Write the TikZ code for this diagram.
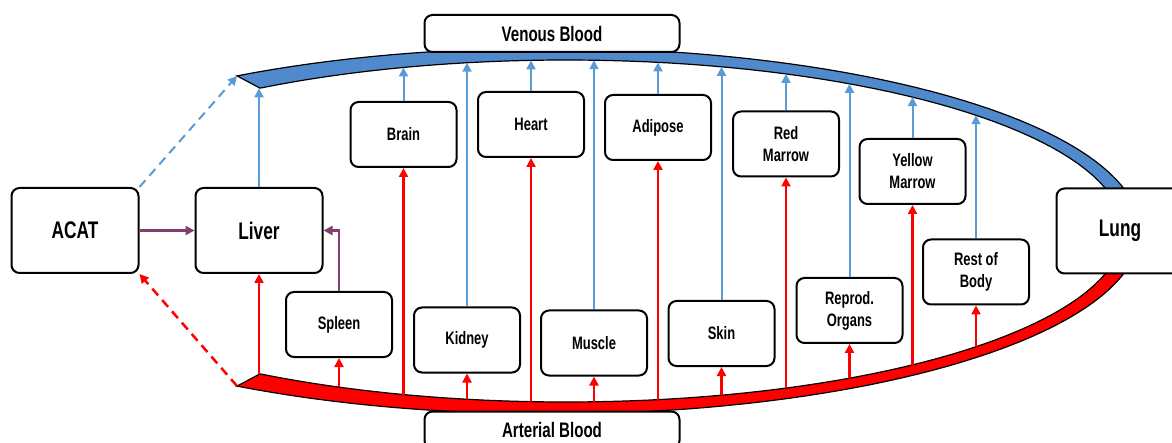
\documentclass[tikz,border=0pt]{standalone}
\usepackage{fontspec}
\setmainfont[FakeStretch=0.72]{Liberation Sans}
\usetikzlibrary{arrows.meta}

\definecolor{venblue}{RGB}{80,138,204}
\definecolor{linkblue}{RGB}{91,155,213}
\definecolor{artred}{RGB}{255,0,0}
\definecolor{transfer}{RGB}{133,60,110}

\begin{document}
\begin{tikzpicture}[
    x=1pt, y=-1pt,
    organ/.style={draw, rounded corners=8pt, line width=2pt, fill=white, minimum width=106pt, minimum height=65pt, align=center, font=\fontsize{18}{22}\selectfont\bfseries},
    bigorgan/.style={organ, minimum width=127pt, minimum height=85pt, font=\fontsize{24}{28}\selectfont\bfseries},
    pool/.style={organ, minimum width=255pt, minimum height=37pt, font=\fontsize{21}{24}\selectfont\bfseries},
    ven/.style={draw=linkblue, line width=2pt, -{Triangle[length=9pt,width=9pt]}},
    art/.style={draw=artred, line width=2.5pt, -{Triangle[length=9pt,width=9pt]}},
    moveto/.style={draw=transfer, line width=2.5pt, -{Triangle[length=9pt,width=9pt]}}
]
    \useasboundingbox (0,0) rectangle (1172,443);

    % Blood pools (bands)
    \filldraw[fill=venblue, draw=black, line width=1.2pt]
        plot[domain=-122.04:0, samples=60] ({550+590*cos(\x)}, {231+183*sin(\x)})
        -- plot[domain=0:-123.33, samples=60] ({566+557*cos(\x)}, {231+171*sin(\x)}) -- cycle;
    \filldraw[fill=artred, draw=black, line width=1.2pt]
        plot[domain=122.04:0, samples=60] ({550+590*cos(\x)}, {231+183*sin(\x)})
        -- plot[domain=0:123.33, samples=60] ({566+557*cos(\x)}, {231+171*sin(\x)}) -- cycle;
    \coordinate (vtip) at (237,76);
    \coordinate (atip) at (237,386);

    % End points on the bands
    \foreach \n/\px in {liver/259, spleen/339, brain/403.5, kidney/467, heart/531, muscle/594,
                        adipose/658, skin/721.5, redmarrow/786, reprod/849.5, yellowmarrow/912.5, restbody/976} {
        \pgfmathsetmacro\h{171*sqrt(1-((\px-566)/557)^2)}
        \coordinate (v\n) at (\px,231-\h);
        \coordinate (a\n) at (\px,231+\h);
    }

    % Compartments
    \node[bigorgan] (acat) at (75,230.5) {ACAT};
    \node[bigorgan] (liver) at (259,230.5) {Liver};
    \node[bigorgan] (lung) at (1120,231) {Lung};
    \node[pool] (venous) at (552,33.5) {Venous Blood};
    \node[pool] (arterial) at (552,430) {Arterial Blood};

    \node[organ] (brain) at (403.5,134.5) {Brain};
    \node[organ] (heart) at (531,124.5) {Heart};
    \node[organ] (adipose) at (658,127.5) {Adipose};
    \node[organ] (redmarrow) at (786,144) {Red\\Marrow};
    \node[organ] (yellowmarrow) at (912.5,171.5) {Yellow\\Marrow};
    \node[organ] (restbody) at (976,272) {Rest of\\Body};
    \node[organ] (spleen) at (339,324.5) {Spleen};
    \node[organ] (kidney) at (467,340) {Kidney};
    \node[organ] (muscle) at (594,343) {Muscle};
    \node[organ] (skin) at (721.5,333.5) {Skin};
    \node[organ] (reprod) at (849.5,310.5) {Reprod.\\Organs};

    % Venous outflow
    \foreach \n in {liver, brain, kidney, heart, muscle, adipose, skin, redmarrow, reprod, yellowmarrow, restbody}
        \draw[ven] (\n.north) -- (v\n);
    % Arterial inflow
    \foreach \n in {liver, spleen, brain, kidney, heart, muscle, adipose, skin, redmarrow, reprod, yellowmarrow, restbody}
        \draw[art] (a\n) -- (\n.south);

    % ACAT and spleen to liver
    \draw[moveto] (acat) -- (liver);
    \draw[moveto] (spleen.north) |- (liver.east);
    \draw[ven, dash pattern=on 9pt off 6pt] (acat.north east) -- (vtip);
    \draw[art, dash pattern=on 9pt off 6pt] (atip) -- (acat.south east);
\end{tikzpicture}
\end{document}
